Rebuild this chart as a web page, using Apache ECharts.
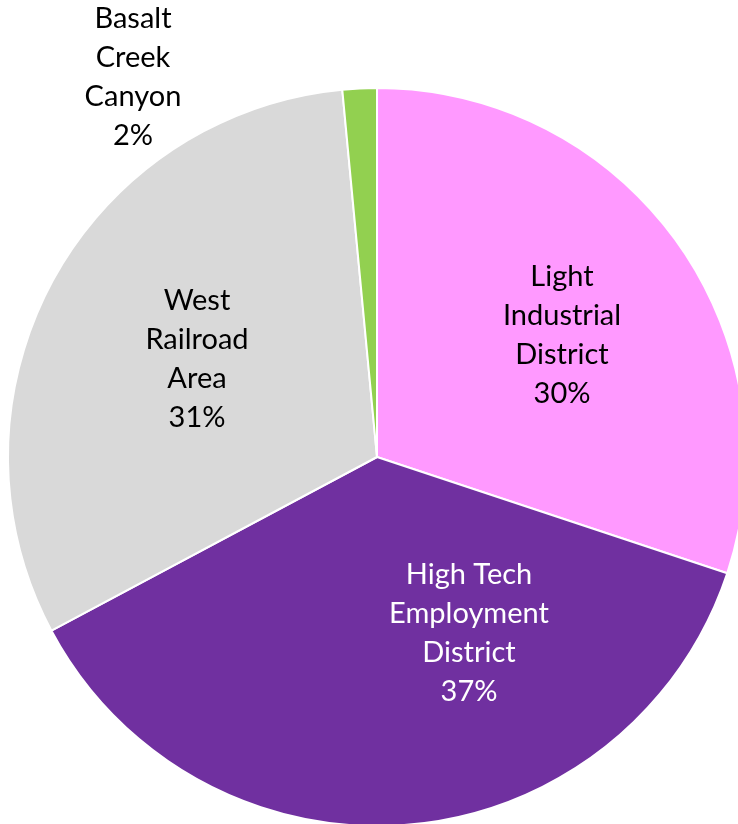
<!DOCTYPE html>
<html>
<head>
<meta charset="utf-8">
<script src="https://cdn.jsdelivr.net/npm/echarts@6/dist/echarts.min.js"></script>
<style>html,body{margin:0;padding:0;background:#fff}#c{width:738px;height:824px}</style>
</head>
<body>
<div id="c"></div>
<script>
const categories = ['Light\nIndustrial\nDistrict', 'High Tech\nEmployment\nDistrict', 'West\nRailroad\nArea', 'Basalt\nCreek\nCanyon'];
const values = [30.1, 37.1, 31.3, 1.5];
const colors = ['#FF99FF', '#7030A0', '#D9D9D9', '#92D050'];
const labelColors = ['#000000', '#FFFFFF', '#000000', '#000000'];
// label centre positions (px)
const labelPos = [[562, 335], [469, 633], [197, 359], [133, 77]];

const chart = echarts.init(document.getElementById('c'), null, {renderer: 'canvas'});
chart.setOption({
  animation: false,
  series: [{
    type: 'pie',
    center: [377, 457],
    radius: 369,
    startAngle: 90,
    clockwise: true,
    percentPrecision: 0,
    itemStyle: {borderColor: '#FFFFFF', borderWidth: 2},
    label: {
      show: true,
      position: 'inside',
      formatter: '{b}\n{d}%',
      fontFamily: 'Lato',
      fontSize: 29,
      lineHeight: 39,
      align: 'center'
    },
    labelLine: {show: false},
    labelLayout: function (p) {
      const pos = labelPos[p.dataIndex];
      return {x: pos[0], y: pos[1], align: 'center', verticalAlign: 'middle'};
    },
    data: categories.map((c, i) => ({
      name: c,
      value: values[i],
      itemStyle: {color: colors[i]},
      label: {color: labelColors[i]}
    }))
  }]
});
</script>
</body>
</html>
